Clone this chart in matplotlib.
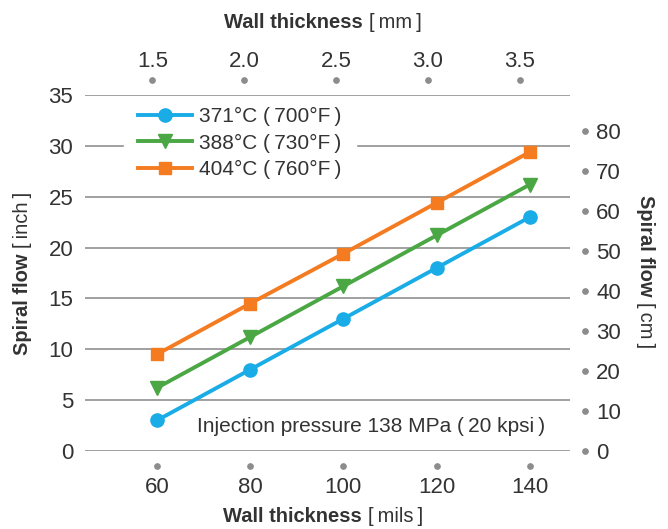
import numpy as np
import matplotlib
matplotlib.use("Agg")
import matplotlib.pyplot as plt

plt.rcParams['font.family'] = ['Liberation Sans', 'DejaVu Sans']

# data
mils = [60, 80, 100, 120, 140]
flow_371 = [3.0, 8.0, 13.0, 18.0, 23.0]
flow_388 = [6.2, 11.2, 16.2, 21.2, 26.2]
flow_404 = [9.5, 14.5, 19.4, 24.4, 29.4]
labels = ["371°C (\u2009700°F\u2009)", "388°C (\u2009730°F\u2009)", "404°C (\u2009760°F\u2009)"]
yticks_in = [0, 5, 10, 15, 20, 25, 30, 35]
yticks_cm = [0, 10, 20, 30, 40, 50, 60, 70, 80]
xticks_mm = [1.5, 2.0, 2.5, 3.0, 3.5]

blue = '#19ace6'
green = '#4aa744'
orange = '#f47b20'
grey = '#8c8c8c'
txt = '#333333'
W, H = 668, 529

fig = plt.figure(figsize=(6.68, 5.29), dpi=100)
ax = fig.add_axes([85 / W, 1 - 451 / H, 485 / W, 356 / H])

ax.plot(mils, flow_371, color=blue, lw=2.8, marker='o', ms=9.5, label=labels[0])
ax.plot(mils, flow_388, color=green, lw=2.8, marker='v', ms=9.5, label=labels[1])
ax.plot(mils, flow_404, color=orange, lw=2.8, marker='s', ms=9, label=labels[2])

ax.set_xlim(44.6, 148.6)
ax.set_ylim(0, 35)
ax.set_yticks(yticks_in)
ax.set_xticks(mils)
ax.yaxis.grid(True, color='#999999', lw=1.3)
ax.set_axisbelow(True)
for s in ax.spines.values():
    s.set_visible(False)


def dot_ticks(axis):
    for t in axis.get_major_ticks():
        for ln in (t.tick1line, t.tick2line):
            ln.set_marker('o')
            ln.set_markersize(4)
            ln.set_markerfacecolor(grey)
            ln.set_markeredgecolor(grey)


# bottom ticks: grey dots below the plot
ax.spines['bottom'].set_position(('outward', 11))
ax.tick_params(axis='x', length=4, pad=4, labelsize=16, labelcolor=txt)
dot_ticks(ax.xaxis)
ax.tick_params(axis='y', length=0, pad=8.5, labelsize=16, labelcolor=txt)

# top axis in mm
top = ax.secondary_xaxis(1 + 15 / 356, functions=(lambda x: x / 39.37, lambda x: x * 39.37))
top.set_xticks(xticks_mm)
top.set_xticklabels([f"{v:.1f}" for v in xticks_mm])
top.tick_params(axis='x', length=4, pad=2, labelsize=16, labelcolor=txt)
for s in top.spines.values():
    s.set_visible(False)
dot_ticks(top.xaxis)

# right axis in cm
right = ax.secondary_yaxis(1 + 15 / 485, functions=(lambda y: y * 2.54, lambda y: y / 2.54))
right.set_yticks(yticks_cm)
right.tick_params(axis='y', length=4, pad=4, labelsize=16, labelcolor=txt)
for s in right.spines.values():
    s.set_visible(False)
dot_ticks(right.yaxis)

leg = ax.legend(loc='upper left', bbox_to_anchor=(48 / 485, 1 - 7 / 356), fontsize=15,
                handlelength=2.6, labelspacing=0.35, handletextpad=0.3,
                frameon=True, framealpha=1, edgecolor='white', fancybox=False,
                borderpad=0.25, borderaxespad=0)
# wider white box sideways only, so it hides the 30 gridline but not the 35 one
leg.legendPatch.set_boxstyle('square', pad=0.45)
leg.legendPatch.set_mutation_aspect(0.01)
for t in leg.get_texts():
    t.set_color(txt)

ax.text(106, 2.4, "Injection pressure 138 MPa (\u200920 kpsi\u2009)", fontsize=15,
        color=txt, ha='center', va='center')

# axis titles: bold name followed by a light unit
t = fig.text(363 / W, 1 - 22 / H, "Wall thickness", fontsize=14.5, fontweight='bold',
             color=txt, ha='right', va='center')
ax.annotate("[\u2009mm\u2009]", xy=(1, 0), xycoords=t, xytext=(4, 0), textcoords='offset points',
            fontsize=14.5, color=txt, ha='left', va='bottom')

t = fig.text(362 / W, 1 - 516 / H, "Wall thickness", fontsize=14.5, fontweight='bold',
             color=txt, ha='right', va='center')
ax.annotate("[\u2009mils\u2009]", xy=(1, 0), xycoords=t, xytext=(4, 0), textcoords='offset points',
            fontsize=14.5, color=txt, ha='left', va='bottom')

t = fig.text(22 / W, 1 - 355 / H, "Spiral flow", fontsize=14.5, fontweight='bold',
             color=txt, ha='center', va='bottom', rotation=90)
ax.annotate("[\u2009inch\u2009]", xy=(0, 1), xycoords=t, xytext=(0, 4), textcoords='offset points',
            fontsize=14.5, color=txt, ha='left', va='bottom', rotation=90)

t = fig.text(645 / W, 1 - 195 / H, "Spiral flow", fontsize=14.5, fontweight='bold',
             color=txt, ha='center', va='top', rotation=-90)
ax.annotate("[\u2009cm\u2009]", xy=(1, 0), xycoords=t, xytext=(0, -4), textcoords='offset points',
            fontsize=14.5, color=txt, ha='right', va='top', rotation=-90)

fig.savefig("out.png", dpi=100)
